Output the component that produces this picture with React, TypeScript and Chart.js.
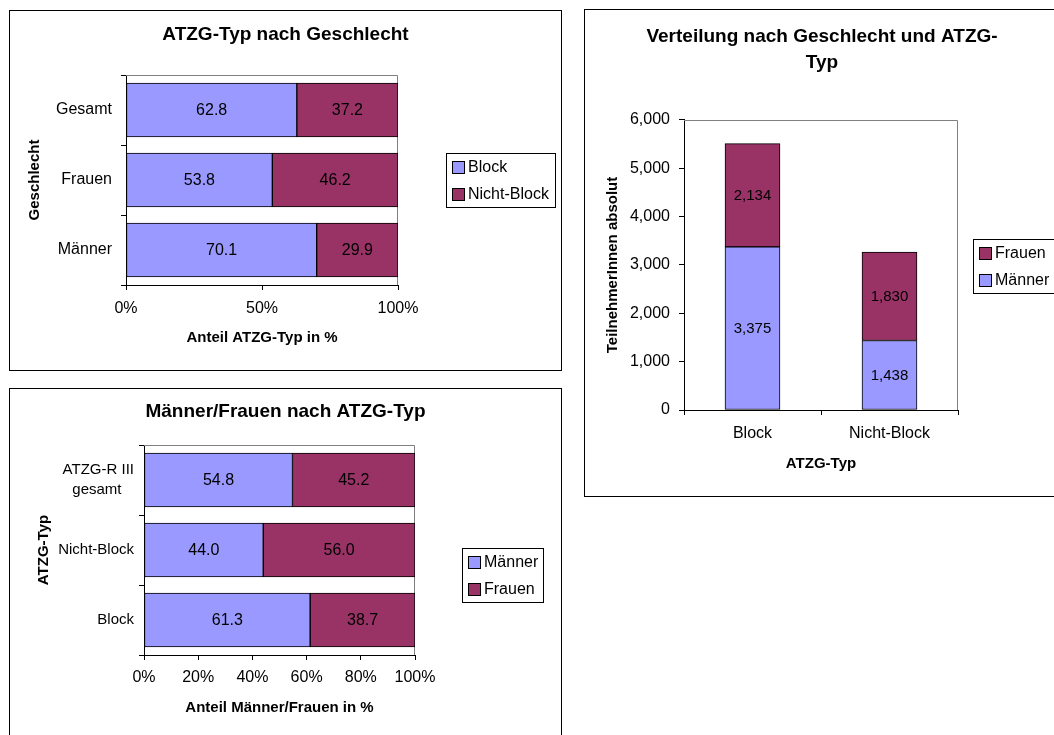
import React, { useEffect, useRef } from 'react';
import { Chart, registerables } from 'chart.js';

Chart.register(...registerables);

const FONT = "'Liberation Sans', Arial, sans-serif";
Chart.defaults.font.family = FONT;
Chart.defaults.color = '#000';

const BLUE = '#9999FF';
const MAROON = '#993366';

// Chart 1: ATZG-Typ nach Geschlecht (percent)
const genderCategories = ['Gesamt', 'Frauen', 'Männer'];
const blockShare = [62.8, 53.8, 70.1];
const nonBlockShare = [37.2, 46.2, 29.9];

// Chart 2: Männer/Frauen nach ATZG-Typ (percent)
const typeCategories: (string | string[])[] = [['ATZG-R III', 'gesamt   '], 'Nicht-Block', 'Block'];
const menShare = [54.8, 44.0, 61.3];
const womenShare = [45.2, 56.0, 38.7];

// Chart 3: Verteilung nach Geschlecht und ATZG-Typ (absolute)
const typeCategoriesAbs = ['Block', 'Nicht-Block'];
const menAbs = [3375, 1438];
const womenAbs = [2134, 1830];

const fmtPct = (v: number) => v.toFixed(1);
const fmtAbs = (v: number) => Number(v).toLocaleString('en-US');

const plotFrame = {
  id: 'plotFrame',
  beforeDatasetsDraw(chart: any) {
    const { ctx, chartArea: a } = chart;
    ctx.save();
    ctx.strokeStyle = '#808080';
    ctx.lineWidth = 1;
    ctx.beginPath();
    ctx.moveTo(a.left, Math.round(a.top) + 0.5);
    ctx.lineTo(Math.round(a.right) - 0.5, Math.round(a.top) + 0.5);
    ctx.lineTo(Math.round(a.right) - 0.5, a.bottom);
    ctx.stroke();
    ctx.restore();
  },
};

function valueLabels(format: (v: number) => string, size: number) {
  return {
    id: 'valueLabels',
    afterDatasetsDraw(chart: any) {
      const ctx = chart.ctx;
      ctx.save();
      ctx.font = `${size}px ${FONT}`;
      ctx.fillStyle = '#000';
      ctx.textAlign = 'center';
      ctx.textBaseline = 'middle';
      chart.data.datasets.forEach((ds: any, di: number) => {
        const meta = chart.getDatasetMeta(di);
        meta.data.forEach((el: any, i: number) => {
          const p = el.getProps(['x', 'y', 'base', 'horizontal'], true);
          const cx = p.horizontal ? (p.x + p.base) / 2 : p.x;
          const cy = p.horizontal ? p.y : (p.y + p.base) / 2;
          ctx.fillText(format(ds.data[i] as number), cx, cy + 1);
        });
      });
      ctx.restore();
    },
  };
}

function boxLegend(cfg: { x: number; y: number; w: number; h: number; size: number; reverse?: boolean }) {
  return {
    id: 'boxLegend',
    afterDraw(chart: any) {
      const ctx = chart.ctx;
      const items = chart.data.datasets.map((d: any) => ({ label: d.label, color: d.backgroundColor }));
      if (cfg.reverse) items.reverse();
      ctx.save();
      ctx.strokeStyle = '#000';
      ctx.lineWidth = 1;
      ctx.fillStyle = '#fff';
      ctx.fillRect(cfg.x, cfg.y, cfg.w, cfg.h);
      ctx.strokeRect(cfg.x + 0.5, cfg.y + 0.5, cfg.w, cfg.h);
      const row = cfg.h / items.length;
      ctx.font = `${cfg.size}px ${FONT}`;
      ctx.textBaseline = 'middle';
      ctx.textAlign = 'left';
      items.forEach((it: any, i: number) => {
        const cy = Math.round(cfg.y + row * (i + 0.5));
        ctx.fillStyle = it.color;
        ctx.fillRect(cfg.x + 7, cy - 5, 11, 11);
        ctx.strokeRect(cfg.x + 6.5, cy - 5.5, 12, 12);
        ctx.fillStyle = '#000';
        ctx.fillText(it.label, cfg.x + 22, cy + 1);
      });
      ctx.restore();
    },
  };
}

const padAxis = (w: number) => ({
  type: 'linear',
  position: 'right',
  display: true,
  grid: { display: false },
  border: { display: false },
  ticks: { display: false },
  afterFit: (s: any) => {
    s.width = w;
  },
});

const bar = (label: string, data: number[], color: string, thickness: number) => ({
  label,
  data,
  backgroundColor: color,
  borderColor: '#000',
  borderWidth: 1,
  borderSkipped: false,
  barThickness: thickness,
  categoryPercentage: 1,
});

function config1(): any {
  return {
    type: 'bar',
    data: {
      labels: genderCategories,
      datasets: [bar('Block', blockShare, BLUE, 54), bar('Nicht-Block', nonBlockShare, MAROON, 54)],
    },
    options: {
      indexAxis: 'y',
      responsive: false,
      animation: false,
      layout: { padding: 0 },
      plugins: {
        legend: { display: false },
        tooltip: { enabled: false },
        title: {
          display: true,
          text: 'ATZG-Typ nach Geschlecht',
          color: '#000',
          font: { size: 19, weight: 'bold', lineHeight: 1.2 },
          padding: { top: 12.6, bottom: 28.6 },
        },
      },
      scales: {
        x: {
          type: 'linear',
          stacked: true,
          min: 0,
          max: 100,
          position: 'bottom',
          ticks: { stepSize: 50, callback: (v: any) => v + '%', font: { size: 16 }, padding: 9.4, maxRotation: 0 },
          grid: { drawOnChartArea: false, tickLength: 5, color: '#000' },
          border: { color: '#000' },
          title: { display: true, text: 'Anteil ATZG-Typ in %', font: { size: 15, weight: 'bold', lineHeight: 1.2 }, padding: { top: 0, bottom: 23 } },
          afterFit: (s: any) => {
            s.height = 85;
          },
        },
        y: {
          type: 'category',
          stacked: true,
          position: 'left',
          ticks: { font: { size: 16 }, padding: 9 },
          grid: { drawOnChartArea: false, tickLength: 5, color: '#000', offset: true },
          border: { color: '#000' },
          title: { display: true, text: 'Geschlecht', font: { size: 15, weight: 'bold', lineHeight: 1.2 }, padding: { top: 16, bottom: 0 } },
          afterFit: (s: any) => {
            s.width = 116;
          },
        },
        pad: padAxis(163),
      },
    },
    plugins: [plotFrame, valueLabels(fmtPct, 16), boxLegend({ x: 436, y: 142, w: 109, h: 54, size: 16 })],
  };
}

function config2(): any {
  return {
    type: 'bar',
    data: {
      labels: typeCategories,
      datasets: [bar('Männer', menShare, BLUE, 54), bar('Frauen', womenShare, MAROON, 54)],
    },
    options: {
      indexAxis: 'y',
      responsive: false,
      animation: false,
      layout: { padding: 0 },
      plugins: {
        legend: { display: false },
        tooltip: { enabled: false },
        title: {
          display: true,
          text: 'Männer/Frauen nach ATZG-Typ',
          color: '#000',
          font: { size: 19, weight: 'bold', lineHeight: 1.2 },
          padding: { top: 11.6, bottom: 21.6 },
        },
      },
      scales: {
        x: {
          type: 'linear',
          stacked: true,
          min: 0,
          max: 100,
          position: 'bottom',
          ticks: { stepSize: 20, callback: (v: any) => v + '%', font: { size: 16 }, padding: 8.4, maxRotation: 0 },
          grid: { drawOnChartArea: false, tickLength: 5, color: '#000' },
          border: { color: '#000' },
          title: { display: true, text: 'Anteil Männer/Frauen in %', font: { size: 15, weight: 'bold', lineHeight: 1.2 }, padding: { top: 0, bottom: 30 } },
          afterFit: (s: any) => {
            s.height = 92;
          },
        },
        y: {
          type: 'category',
          stacked: true,
          position: 'left',
          ticks: { font: { size: 15, lineHeight: 1.35 }, padding: 5 },
          grid: { drawOnChartArea: false, tickLength: 5, color: '#000', offset: true },
          border: { color: '#000' },
          title: { display: true, text: 'ATZG-Typ', font: { size: 15, weight: 'bold', lineHeight: 1.2 }, padding: { top: 25, bottom: 0 } },
          afterFit: (s: any) => {
            s.width = 134;
          },
        },
        pad: padAxis(146),
      },
    },
    plugins: [plotFrame, valueLabels(fmtPct, 16), boxLegend({ x: 452, y: 159, w: 81, h: 54, size: 16 })],
  };
}

function config3(): any {
  return {
    type: 'bar',
    data: {
      labels: typeCategoriesAbs,
      datasets: [bar('Männer', menAbs, BLUE, 55), bar('Frauen', womenAbs, MAROON, 55)],
    },
    options: {
      responsive: false,
      animation: false,
      layout: { padding: 0 },
      plugins: {
        legend: { display: false },
        tooltip: { enabled: false },
        title: {
          display: true,
          text: ['Verteilung nach Geschlecht und ATZG-', 'Typ'],
          color: '#000',
          font: { size: 19, weight: 'bold', lineHeight: 1.37 },
          padding: { top: 14, bottom: 43.9 },
        },
      },
      scales: {
        x: {
          type: 'category',
          stacked: true,
          position: 'bottom',
          ticks: { font: { size: 16 }, padding: 9.4 },
          grid: { drawOnChartArea: false, tickLength: 5, color: '#000', offset: true },
          border: { color: '#000' },
          title: { display: true, text: 'ATZG-Typ', font: { size: 15, weight: 'bold', lineHeight: 1.2 }, padding: { top: 0, bottom: 23 } },
          afterFit: (s: any) => {
            s.height = 86;
          },
        },
        y: {
          type: 'linear',
          stacked: true,
          min: 0,
          max: 6000,
          position: 'left',
          ticks: { stepSize: 1000, callback: (v: any) => fmtAbs(Number(v)), font: { size: 16 }, padding: 9 },
          grid: { drawOnChartArea: false, tickLength: 5, color: '#000' },
          border: { color: '#000' },
          title: { display: true, text: 'TeilnehmerInnen absolut', font: { size: 15, weight: 'bold', lineHeight: 1.2 }, padding: { top: 19, bottom: 0 } },
          afterFit: (s: any) => {
            s.width = 99;
          },
        },
        pad: padAxis(101),
      },
    },
    plugins: [plotFrame, valueLabels(fmtAbs, 15), boxLegend({ x: 388, y: 229, w: 100, h: 54, size: 16, reverse: true })],
  };
}

function ChartBox(props: { left: number; top: number; width: number; height: number; config: () => any }) {
  const { left, top, width, height, config } = props;
  const ref = useRef<HTMLCanvasElement>(null);
  useEffect(() => {
    const chart = new Chart(ref.current as HTMLCanvasElement, config());
    return () => chart.destroy();
  }, []);
  return (
    <div
      style={{
        position: 'absolute',
        left,
        top,
        width,
        height,
        border: '1px solid #000',
        boxSizing: 'border-box',
        background: '#fff',
      }}
    >
      <canvas ref={ref} width={width - 2} height={height - 2} style={{ display: 'block', width: width - 2, height: height - 2 }} />
    </div>
  );
}

export default function App() {
  return (
    <div style={{ position: 'fixed', left: 0, top: 0, width: 1054, height: 735, overflow: 'hidden', background: '#fff' }}>
      <ChartBox left={9} top={10} width={553} height={361} config={config1} />
      <ChartBox left={9} top={388} width={553} height={360} config={config2} />
      <ChartBox left={584} top={9} width={476} height={488} config={config3} />
    </div>
  );
}
